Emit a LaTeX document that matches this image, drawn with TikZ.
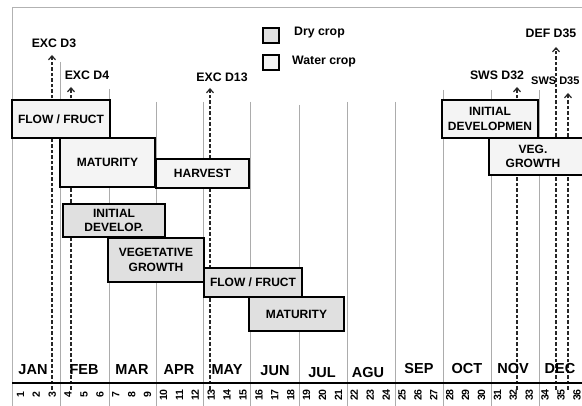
\documentclass[tikz,border=0pt]{standalone}
\usepackage{fontspec}
\setmainfont{Liberation Sans}
\usetikzlibrary{arrows.meta}
\newcommand\boxfont{\fontsize{12}{14.5}\selectfont\bfseries}
\newcommand\evfont{\fontsize{12.3}{14}\selectfont\bfseries}
\newcommand\evsmallfont{\fontsize{11}{13}\selectfont\bfseries}
\newcommand\monfont{\fontsize{14.5}{16}\selectfont\bfseries}
\newcommand\wkfont{\fontsize{10.5}{11}\selectfont\bfseries}
\tikzset{
  crop/.style={draw=black, line width=1.7pt, rectangle, inner sep=0pt, font=\boxfont, align=center},
  water/.style={crop, fill=gray!9},
  dry/.style={crop, fill=gray!24},
  monthline/.style={draw=gray!65, line width=0.8pt},
  frameline/.style={draw=gray!60, line width=0.8pt},
  dasharrow/.style={draw=black!85, dash pattern=on 3.5pt off 2pt, line width=1.2pt, -{Straight Barb[length=4pt,width=7pt,line width=1.2pt]}},
  evlabel/.style={font=\evfont, inner sep=0pt},
  monthlabel/.style={font=\monfont, inner sep=0pt},
  weeklabel/.style={font=\wkfont, rotate=90, inner sep=0pt},
  legendbox/.style={draw=black, line width=1.5pt, minimum width=16pt, minimum height=15pt, inner sep=0pt}
}
\begin{document}
\begin{tikzpicture}[x=1pt,y=-1pt]
\useasboundingbox (0,0) rectangle (582,406);
\clip (0,0) rectangle (582,406);
\fill[white] (0,0) rectangle (582,406);
% frame
\coordinate (ftl) at (12,7);
\coordinate (ftr) at (582,7);
\coordinate (fbl) at (12,406);
\draw[frameline] (ftr) -- (ftl) -- (fbl);
% month separators
\foreach \x/\t [count=\i] in {60/62,109/89,156/102,203/102,250/102,299/105,347/102,395/102,443/90,491/90,539/90}{
  \coordinate (mt\i) at (\x,\t);
  \coordinate (mb\i) at (\x,406);
  \draw[monthline] (mt\i) -- (mb\i);
}
% dashed event arrows
\coordinate (d3b) at (52,390);  \coordinate (d3t) at (52,55);
\coordinate (d4b) at (71,390);  \coordinate (d4t) at (71,87);
\coordinate (d13b) at (210,390); \coordinate (d13t) at (210,88);
\coordinate (d32b) at (517,390); \coordinate (d32t) at (517,87);
\coordinate (def35b) at (556,390); \coordinate (def35t) at (556,47);
\coordinate (sws35b) at (568,390); \coordinate (sws35t) at (568,93);
\draw[dasharrow] (d3b) -- (d3t);
\draw[dasharrow] (d4b) -- (d4t);
\draw[dasharrow] (d13b) -- (d13t);
\draw[dasharrow] (d32b) -- (d32t);
\draw[dasharrow] (def35b) -- (def35t);
\draw[dasharrow] (sws35b) -- (sws35t);
\node[evlabel] (lexc3) at (54,43) {EXC D3};
\node[evlabel] (lexc4) at (87,75) {EXC D4};
\node[evlabel] (lexc13) at (222,77) {EXC D13};
\node[evlabel] (lsws32) at (497,75) {SWS D32};
\node[evlabel] (ldef35) at (551,33) {DEF D35};
\node[evlabel, font=\evsmallfont, anchor=west] (lsws35) at (531,81) {SWS D35};
% legend
\node[legendbox, fill=gray!24] (ldry) at (271,35.5) {};
\node[legendbox, fill=gray!9] (lwat) at (271,62.5) {};
\node[evlabel, anchor=west] (tdry) at (294,33) {Dry crop};
\node[evlabel, anchor=west] (twat) at (292,62) {Water crop};
% water crop boxes
\node[water, minimum width=98pt, minimum height=38pt] (wflow) at (61,119) {FLOW / FRUCT};
\node[water, minimum width=95pt, minimum height=49pt] (wmat) at (107.5,162.5) {MATURITY};
\node[water, minimum width=93pt, minimum height=29pt] (whar) at (202.5,173.5) {HARVEST};
\node[water, minimum width=96pt, minimum height=38pt] (wini) at (490,119) {INITIAL\\DEVELOPMEN};
\node[water, minimum width=103pt, minimum height=37pt] (wveg) at (540.5,156.5) {};
\node[font=\boxfont, align=center, inner sep=0pt] (wvegt) at (533,156.5) {VEG.\\GROWTH};
% dry crop boxes
\node[dry, minimum width=102pt, minimum height=33pt] (dini) at (114,220.5) {INITIAL\\DEVELOP.};
\node[dry, minimum width=96pt, minimum height=44pt] (dveg) at (156,260) {VEGETATIVE\\GROWTH};
\node[dry, minimum width=98pt, minimum height=29pt] (dflow) at (253,282.5) {FLOW / FRUCT};
\node[dry, minimum width=95pt, minimum height=34pt] (dmat) at (296.5,314) {MATURITY};
% months
\foreach \x/\y/\m [count=\i] in {33/370/JAN,84/370/FEB,132/370/MAR,179/370/APR,227/370/MAY,275/371/JUN,322/373/JUL,368/373/AGU,419/369/SEP,467/369/OCT,513/369/NOV,560/369/DEC}{
  \node[monthlabel] (mon\i) at (\x,\y) {\m};
}
% axis
\coordinate (axl) at (12,383);
\coordinate (axr) at (582,383);
\draw[black, line width=1.8pt] (axl) -- (axr);
% week numbers
\foreach \n in {1,...,36}{
  \node[weeklabel] (wk\n) at ({4.5+15.9*\n},395) {\n};
}
\end{tikzpicture}
\end{document}
